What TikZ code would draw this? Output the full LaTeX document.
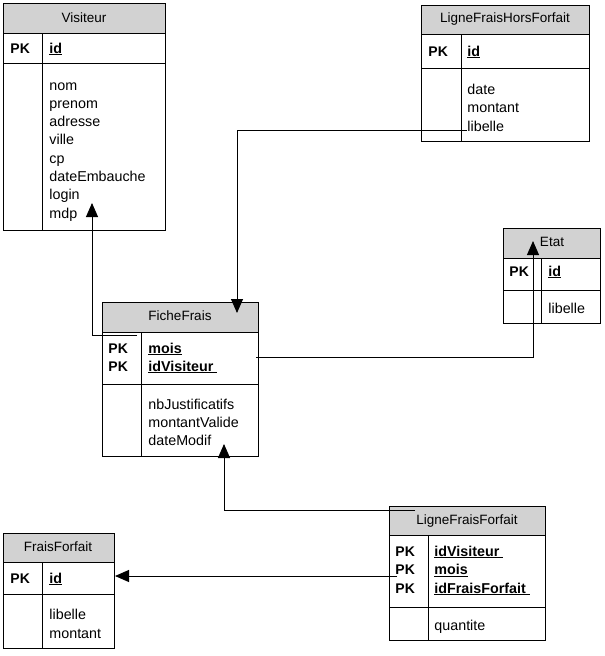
\documentclass[tikz,border=0pt]{standalone}
\usepackage{fontspec}
\setmainfont{Liberation Sans}
\usetikzlibrary{arrows.meta}
\definecolor{hdrgray}{RGB}{210,210,210}
\newcommand{\keyfield}[1]{\underline{\textbf{#1}}}
\begin{document}
\begin{tikzpicture}[x=1pt,y=-1pt,line width=0.9pt,
  every node/.style={inner sep=0pt,font=\fontsize{14.3}{16}\selectfont},
  hdr/.style={draw,fill=hdrgray},
  title/.style={anchor=center,font=\fontsize{13.5}{16}\selectfont},
  pk/.style={anchor=base west,font=\fontsize{14}{16}\selectfont\bfseries},
  attr/.style={anchor=base west},
  fk/.style={-{Triangle[length=14pt,width=12pt]}}]
\useasboundingbox (0,0) rectangle (605,656);

% Visiteur
\draw[hdr] (3,3) rectangle (165,33);
\draw (3,33) rectangle (165,230);
\draw (3,63) -- (165,63);
\draw (42,33) -- (42,230);
\node[title] (visiteur) at (84,18) {Visiteur};
\node[pk] (visPK) at (10,53) {PK};
\node[attr] (visId) at (49,53) {\keyfield{id}};
\foreach \t [count=\i] in {nom,prenom,adresse,ville,cp,dateEmbauche,login,mdp}
  \node[attr] (visA\i) at (49,71.7+18.3*\i) {\t};

% LigneFraisHorsForfait
\draw[hdr] (421,5) rectangle (589,34);
\draw (421,34) rectangle (589,141);
\draw (421,68) -- (589,68);
\draw (461,34) -- (461,141);
\node[title] (lfhf) at (505,19) {LigneFraisHorsForfait};
\node[pk] (lfhfPK) at (428,56) {PK};
\node[attr] (lfhfId) at (467,56) {\keyfield{id}};
\foreach \t [count=\i] in {date,montant,libelle}
  \node[attr] (lfhfA\i) at (467,75.5+18.5*\i) {\t};

% Etat
\draw[hdr] (503,228) rectangle (600,258);
\draw (503,258) rectangle (600,323);
\draw (503,290) -- (600,290);
\draw (541,258) -- (541,323);
\node[title] (etat) at (552,242) {Etat};
\node[pk] (etatPK) at (509,276) {PK};
\node[attr] (etatId) at (548,276) {\keyfield{id}};
\node[attr] (etatA1) at (548,313) {libelle};

% FicheFrais
\draw[hdr] (102,302) rectangle (258,332);
\draw (102,332) rectangle (258,456);
\draw (102,384) -- (258,384);
\draw (141,332) -- (141,456);
\node[title] (ficheFrais) at (180,316) {FicheFrais};
\node[pk] (ffPK1) at (108,353) {PK};
\node[pk] (ffPK2) at (108,371) {PK};
\node[attr] (ffK1) at (148,353) {\keyfield{mois}};
\node[attr] (ffK2) at (148,371) {\keyfield{idVisiteur\ }};
\foreach \t [count=\i] in {nbJustificatifs,montantValide,dateModif}
  \node[attr] (ffA\i) at (148,391+18*\i) {\t};

% LigneFraisForfait
\draw[hdr] (389,506) rectangle (545,535);
\draw (389,535) rectangle (545,640);
\draw (389,607) -- (545,607);
\draw (428,535) -- (428,640);
\node[title] (lff) at (467,521) {LigneFraisForfait};
\foreach \t [count=\i] in {idVisiteur\ ,mois,idFraisForfait\ } {
  \node[pk] (lffPK\i) at (395,537.5+18.5*\i) {PK};
  \node[attr] (lffK\i) at (434,537.5+18.5*\i) {\keyfield{\t}};
}
\node[attr] (lffA1) at (434,630) {quantite};

% FraisForfait
\draw[hdr] (3,533) rectangle (114,562);
\draw (3,562) rectangle (114,648);
\draw (3,594) -- (114,594);
\draw (42,562) -- (42,648);
\node[title] (fraisForfait) at (58,547) {FraisForfait};
\node[pk] (foPK) at (10,583) {PK};
\node[attr] (foId) at (49,583) {\keyfield{id}};
\node[attr] (foA1) at (49,619) {libelle};
\node[attr] (foA2) at (49,638) {montant};

% liens
\coordinate (ffToVis) at (137,335);
\coordinate (visIn) at (92,203);
\coordinate (lfhfOut) at (467,130);
\coordinate (ffInTop) at (237,313);
\coordinate (ffToEtat) at (256,357);
\coordinate (etatIn) at (533,241);
\coordinate (lffToFf) at (415,510);
\coordinate (ffInBot) at (224,444);
\coordinate (lffToFo) at (397,576);
\coordinate (foIn) at (115,576);
\draw[fk] (ffToVis) -| (visIn);
\draw[fk] (lfhfOut) -| (ffInTop);
\draw[fk] (ffToEtat) -| (etatIn);
\draw[fk] (lffToFf) -| (ffInBot);
\draw[fk] (lffToFo) -- (foIn);
\end{tikzpicture}
\end{document}
